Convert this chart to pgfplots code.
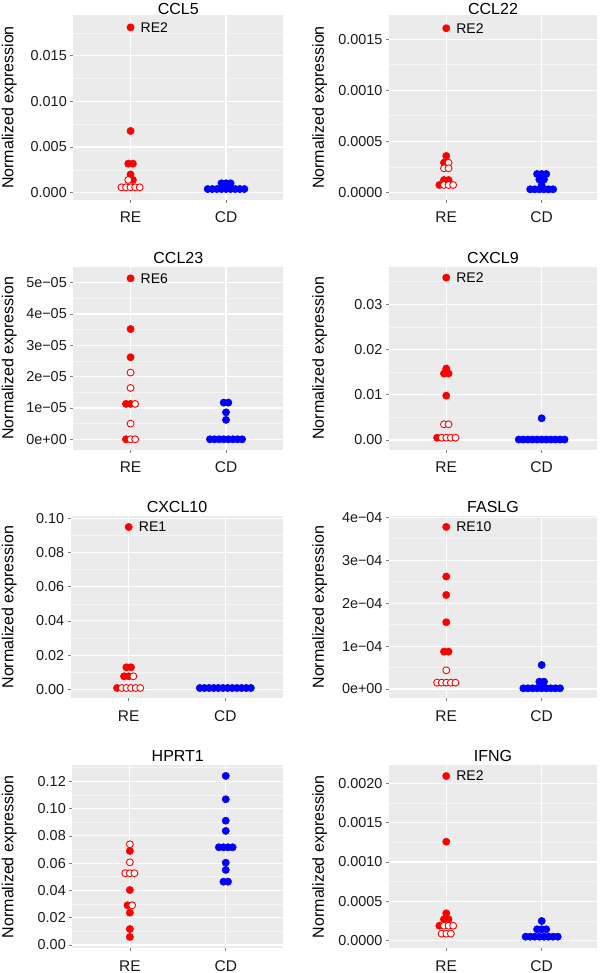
\documentclass[border=0pt]{standalone}
\usepackage{pgfplots}
\pgfplotsset{compat=1.18}
\usepackage{fontspec}
\setmainfont{Liberation Sans}
\definecolor{bg}{HTML}{EBEBEB}
\definecolor{minorg}{HTML}{F5F5F5}
\definecolor{tickc}{HTML}{7F7F7F}
\definecolor{txt}{HTML}{1A1A1A}
\definecolor{dotred}{HTML}{FF0000}
\definecolor{dotblue}{HTML}{0000FF}
\tikzset{lab/.style={anchor=west, inner sep=0pt, font=\fontsize{14}{16}\selectfont}}
\pgfplotsset{
  base/.style={
    axis background/.style={fill=bg},
    axis line style={draw=none},
    tick pos=left,
    xmin=0.4,
    xtick={1,2}, xticklabels={RE,CD},
    grid=both,
    major grid style={white, line width=1.1pt},
    minor grid style={minorg, line width=0.55pt},
    tick align=outside, major tick length=3pt, minor tick length=0pt,
    tick style={tickc, line width=0.6pt},
    yticklabel style={font=\fontsize{14.4}{16}\selectfont, text=txt},
    xticklabel style={font=\fontsize{15.5}{17}\selectfont, text=txt, anchor=base, yshift=-20pt},
    title style={font=\fontsize{16}{18}\selectfont, at={(0.5,1)}, anchor=base},
    label style={font=\fontsize{16}{18}\selectfont},
    scaled y ticks=false,
    clip=false,
  },
  panel/.style n args={6}{
    scale only axis, at={(#1pt,#2pt)}, anchor=south west, width=#3pt, height=#4pt,
    title={#6}, ylabel={Normalized expression},
    ylabel style={at={(axis description cs:#5,0.5)}, anchor=center},
  },
  rf/.style={only marks, mark=*, mark size=3.6pt, mark options={fill=dotred, draw=dotred, line width=0.6pt}},
  ro/.style={only marks, mark=*, mark size=3.45pt, mark options={fill=white, draw=dotred, line width=0.9pt}},
  bf/.style={only marks, mark=*, mark size=3.6pt, mark options={fill=dotblue, draw=dotblue, line width=0.6pt}},
}
\begin{document}
\begin{tikzpicture}
\path[use as bounding box] (0,0) rectangle (600pt,973pt);

% ---------- CCL5 ----------
\begin{axis}[base, panel={73.3}{773}{210}{185}{-0.3052}{CCL5}, title style={yshift=-5.5pt},
  xmax=2.6, ymin=-0.000799, ymax=0.019457,
  ytick={0,0.005,0.010,0.015}, yticklabels={0.000,0.005,0.010,0.015},
  minor ytick={0.0025,0.0075,0.0125,0.0175}]
\addplot[rf] coordinates {(1,0.0181) (1,0.00676) (0.976,0.00318) (1.024,0.00318) (1,0.0020) (1.024,0.0014)};
\addplot[ro] coordinates {(0.976,0.0014) (0.904,0.00059) (0.952,0.00059) (1,0.00059) (1.048,0.00059) (1.096,0.00059)};
\addplot[bf] coordinates {(1.952,0.00103) (2,0.00103) (2.048,0.00103)
  (1.808,0.0004) (1.856,0.0004) (1.904,0.0004) (1.952,0.0004) (2,0.0004) (2.048,0.0004) (2.096,0.0004) (2.144,0.0004) (2.192,0.0004)};
\node[lab] at (axis cs:1.104,0.0181) {RE2};
\end{axis}

% ---------- CCL22 ----------
\begin{axis}[base, panel={389}{773}{208}{185}{-0.3332}{CCL22}, title style={yshift=-5.5pt},
  xmax=2.58, ymin=-0.0000755, ymax=0.001738,
  ytick={0,0.0005,0.0010,0.0015}, yticklabels={0.0000,0.0005,0.0010,0.0015},
  minor ytick={0.00025,0.00075,0.00125}]
\addplot[rf] coordinates {(1,0.001608) (1,0.000356) (0.976,0.00029) (0.976,0.00012) (1.024,0.00012) (0.928,0.0000716)};
\addplot[ro] coordinates {(1.024,0.00029) (0.976,0.000235) (1.024,0.000235) (0.976,0.0000716) (1.024,0.0000716) (1.072,0.0000716)};
\addplot[bf] coordinates {(1.952,0.000179) (2,0.000179) (2.048,0.000179)
  (1.976,0.000125) (2.024,0.000125) (2,0.00007)
  (1.88,0.0000294) (1.928,0.0000294) (1.976,0.0000294) (2.024,0.0000294) (2.072,0.0000294) (2.12,0.0000294)};
\node[lab] at (axis cs:1.104,0.001608) {RE2};
\end{axis}

% ---------- CCL23 ----------
\begin{axis}[base, panel={73.3}{523}{210}{183.3}{-0.3052}{CCL23}, title style={yshift=-3pt},
  xmax=2.6, ymin=-0.342, ymax=5.511,
  ytick={0,1,2,3,4,5}, yticklabels={0e+00,1e−05,2e−05,3e−05,4e−05,5e−05},
  minor ytick={0.5,1.5,2.5,3.5,4.5}]
\addplot[rf] coordinates {(1,5.14) (1,3.52) (1,2.62) (0.952,1.13) (1,1.13) (0.952,0)};
\addplot[ro] coordinates {(1,2.13) (1,1.64) (1.048,1.13) (1,0.50) (1,0) (1.048,0)};
\addplot[bf] coordinates {(1.976,1.17) (2.024,1.17) (2,0.86) (2,0.62)
  (1.832,0) (1.88,0) (1.928,0) (1.976,0) (2.024,0) (2.072,0) (2.12,0) (2.168,0)};
\node[lab] at (axis cs:1.104,5.14) {RE6};
\end{axis}

% ---------- CXCL9 ----------
\begin{axis}[base, panel={389}{523}{208}{183.3}{-0.3332}{CXCL9}, title style={yshift=-3pt},
  xmax=2.58, ymin=-0.00221, ymax=0.03832,
  ytick={0,0.01,0.02,0.03}, yticklabels={0.00,0.01,0.02,0.03},
  minor ytick={0.005,0.015,0.025,0.035}]
\addplot[rf] coordinates {(1,0.0359) (1,0.0158) (0.976,0.0147) (1.024,0.0147) (1,0.0098) (0.904,0.0005)};
\addplot[ro] coordinates {(0.976,0.00347) (1.024,0.00347) (0.952,0.0005) (1,0.0005) (1.048,0.0005) (1.096,0.0005)};
\addplot[bf] coordinates {(2,0.0048)
  (1.76,0.0001) (1.808,0.0001) (1.856,0.0001) (1.904,0.0001) (1.952,0.0001) (2,0.0001) (2.048,0.0001) (2.096,0.0001) (2.144,0.0001) (2.192,0.0001) (2.24,0.0001)};
\node[lab] at (axis cs:1.104,0.0359) {RE2};
\end{axis}

% ---------- CXCL10 ----------
\begin{axis}[base, panel={70.7}{274.7}{212.6}{182.3}{-0.2893}{CXCL10}, title style={yshift=-3pt},
  xmax=2.6, ymin=-0.00526, ymax=0.10135,
  ytick={0,0.02,0.04,0.06,0.08,0.10}, yticklabels={0.00,0.02,0.04,0.06,0.08,0.10},
  minor ytick={0.01,0.03,0.05,0.07,0.09}]
\addplot[rf] coordinates {(1,0.0949) (0.976,0.01286) (1.024,0.01286) (0.952,0.0076) (1,0.0076) (0.88,0.00076)};
\addplot[ro] coordinates {(1.048,0.0076) (0.928,0.00076) (0.976,0.00076) (1.024,0.00076) (1.072,0.00076) (1.12,0.00076)};
\addplot[bf] coordinates {(1.736,0.00076) (1.784,0.00076) (1.832,0.00076) (1.88,0.00076) (1.928,0.00076) (1.976,0.00076)
  (2.024,0.00076) (2.072,0.00076) (2.12,0.00076) (2.168,0.00076) (2.216,0.00076) (2.264,0.00076)};
\node[lab] at (axis cs:1.104,0.0949) {RE1};
\end{axis}

% ---------- FASLG ----------
\begin{axis}[base, panel={389}{274.7}{208}{182.3}{-0.3332}{FASLG}, title style={yshift=-3pt},
  xmax=2.58, ymin=-0.217, ymax=4.03,
  ytick={0,1,2,3,4}, yticklabels={0e+00,1e−04,2e−04,3e−04,4e−04},
  minor ytick={0.5,1.5,2.5,3.5}]
\addplot[rf] coordinates {(1,3.776) (1,2.62) (1,2.19) (1,1.555) (0.976,0.87) (1.024,0.87)};
\addplot[ro] coordinates {(1,0.436) (0.904,0.147) (0.952,0.147) (1,0.147) (1.048,0.147) (1.096,0.147)};
\addplot[bf] coordinates {(2,0.559) (1.976,0.17) (2.024,0.17)
  (1.808,0.016) (1.856,0.016) (1.904,0.016) (1.952,0.016) (2,0.016) (2.048,0.016) (2.096,0.016) (2.144,0.016) (2.192,0.016)};
\node[lab] at (axis cs:1.104,3.776) {RE10};
\end{axis}

% ---------- HPRT1 ----------
\begin{axis}[base, panel={72.3}{24.7}{211}{183.3}{-0.2991}{HPRT1}, title style={yshift=-3pt},
  xmax=2.6, ymin=-0.00242, ymax=0.1319,
  ytick={0,0.02,0.04,0.06,0.08,0.10,0.12}, yticklabels={0.00,0.02,0.04,0.06,0.08,0.10,0.12},
  minor ytick={0.01,0.03,0.05,0.07,0.09,0.11,0.13}]
\addplot[rf] coordinates {(1,0.0689) (1,0.0403) (0.976,0.0291) (1,0.0237) (1,0.0117) (1,0.0059)};
\addplot[ro] coordinates {(1,0.0738) (1,0.0606) (0.952,0.0526) (1,0.0526) (1.048,0.0526) (1.024,0.0291)};
\addplot[bf] coordinates {(2,0.1239) (2,0.1068) (2,0.0911) (2,0.0836)
  (1.928,0.0716) (1.976,0.0716) (2.024,0.0716) (2.072,0.0716)
  (2,0.0603) (2,0.055) (1.976,0.0464) (2.024,0.0464)};
\end{axis}

% ---------- IFNG ----------
\begin{axis}[base, panel={389}{24.7}{208}{183.3}{-0.3332}{IFNG}, title style={yshift=-3pt},
  xmax=2.58, ymin=-0.0000966, ymax=0.002233,
  ytick={0,0.0005,0.0010,0.0015,0.0020}, yticklabels={0.0000,0.0005,0.0010,0.0015,0.0020},
  minor ytick={0.00025,0.00075,0.00125,0.00175}]
\addplot[rf] coordinates {(1,0.002093) (1,0.001258) (1,0.000348) (0.976,0.000272) (1.024,0.000272) (0.928,0.00019)};
\addplot[ro] coordinates {(0.976,0.00019) (1.024,0.00019) (1.072,0.00019) (0.952,0.0000889) (1,0.0000889) (1.048,0.0000889)};
\addplot[bf] coordinates {(2,0.00025) (1.952,0.000145) (2,0.000145) (2.048,0.000145)
  (1.832,0.0000508) (1.88,0.0000508) (1.928,0.0000508) (1.976,0.0000508) (2.024,0.0000508) (2.072,0.0000508) (2.12,0.0000508) (2.168,0.0000508)};
\node[lab] at (axis cs:1.104,0.002093) {RE2};
\end{axis}
\end{tikzpicture}
\end{document}
